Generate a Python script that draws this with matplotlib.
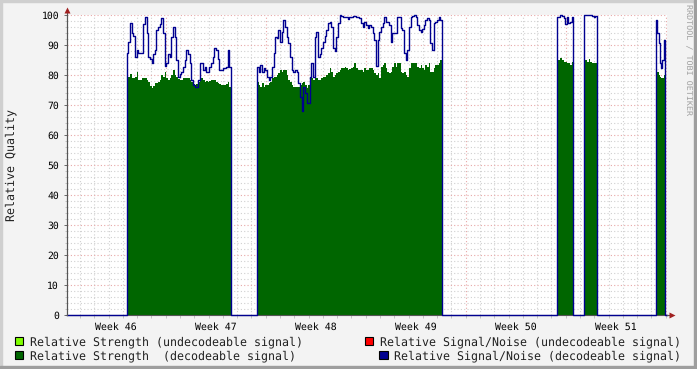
import numpy as np
import matplotlib
matplotlib.use("Agg")
import matplotlib.pyplot as plt
from matplotlib.patches import Rectangle

plt.rcParams["text.hinting"] = "no_hinting"

W, H = 697, 369
MONO = "DejaVu Sans Mono"

# ---------------- data ----------------
week_labels = ["Week 46", "Week 47", "Week 48", "Week 49", "Week 50", "Week 51"]
week_centers = [3.5, 10.5, 17.5, 24.5, 31.5, 38.5]   # days from axis origin
y_ticks = [0, 10, 20, 30, 40, 50, 60, 70, 80, 90, 100]

# start / end (days) of each period with data
seg_bounds = [(4.27, 11.57), (13.39, 26.34), (34.41, 35.53), (36.28, 37.17), (41.32, 41.95)]

seg1_snr = [87.2, 91.0, 97.2, 94.0, 93.0, 86.0, 88.3, 87.5, 87.2, 87.2,
            97.0, 99.4, 94.0, 86.0, 85.5, 84.0, 87.0, 88.3, 95.0, 96.0,
            97.0, 99.0, 94.0, 83.0, 84.0, 87.0, 86.0, 92.8, 96.0, 92.8,
            85.0, 79.5, 80.5, 81.0, 82.8, 85.0, 88.3, 87.0, 84.0, 78.3,
            76.7, 76.0, 76.0, 78.3, 84.0, 84.0, 81.7, 82.8, 81.0, 81.0,
            82.8, 84.0, 86.0, 88.9, 88.3, 85.5, 81.7, 81.7, 82.2, 82.2,
            82.8, 88.3, 82.8]
seg1_str = [79.0, 79.5, 80.5, 79.0, 79.0, 79.5, 81.0, 78.3, 78.5, 79.0,
            79.0, 79.0, 78.5, 77.8, 76.5, 75.6, 76.5, 77.2, 77.5, 77.8,
            78.5, 80.0, 79.4, 81.0, 79.0, 78.3, 79.0, 80.0, 81.7, 80.0,
            79.4, 78.8, 78.3, 78.5, 79.0, 79.0, 79.0, 79.0, 78.3, 77.8,
            77.0, 76.7, 77.0, 77.8, 78.5, 79.0, 78.3, 77.8, 78.0, 77.8,
            78.0, 78.3, 78.3, 78.3, 77.8, 77.2, 77.0, 76.7, 76.7, 76.7,
            77.0, 77.8, 76.0]

seg2_snr = [82.8, 81.0, 83.3, 81.0, 82.2, 81.7, 79.4, 78.3, 79.4, 82.8,
            87.2, 92.8, 92.2, 95.0, 91.1, 94.4, 98.3, 96.0, 92.8, 90.6,
            86.0, 81.7, 81.0, 81.7, 81.0, 77.2, 72.8, 68.0, 76.0, 74.0,
            70.6, 70.6, 79.4, 83.9, 79.4, 92.8, 94.4,
            86.0, 87.0, 89.0, 91.0, 93.0, 95.0, 97.2, 97.8, 96.0, 89.0,
            88.0, 92.8, 97.2, 100.0, 99.8, 99.5, 99.5, 99.5, 98.8, 99.5,
            99.5, 99.8, 99.8, 99.5, 99.5, 98.9, 97.2, 96.0, 97.8, 96.7,
            95.6, 96.7, 96.0, 93.9, 91.7, 83.0, 91.7, 94.4,
            96.0, 97.2, 99.4, 97.8, 97.8, 96.7, 91.0, 93.9, 93.9, 93.9,
            99.4, 99.4, 95.6, 95.0, 87.2, 85.0, 88.3, 96.0, 99.4, 99.6,
            100.0, 99.4, 96.7, 95.0, 94.4, 95.5, 96.7, 98.3, 98.9, 98.3,
            90.6, 88.3, 97.2, 97.8, 98.3, 99.4, 98.3]
seg2_str = [77.8, 76.7, 76.0, 77.2, 76.0, 76.7, 76.7, 77.2, 77.8, 78.9,
            79.4, 79.4, 80.0, 80.6, 81.7, 81.0, 81.7, 81.7, 80.0, 78.3,
            77.8, 76.7, 76.0, 76.0, 76.0, 76.0, 76.7, 77.2, 77.8, 76.7,
            75.6, 76.7, 78.3, 78.9, 78.3, 78.9, 78.9,
            78.3, 78.5, 78.9, 79.2, 79.4, 80.0, 80.6, 82.2, 81.1, 79.4,
            80.0, 80.6, 81.1, 81.7, 82.2, 82.5, 82.8, 82.2, 81.7, 82.0,
            82.2, 82.8, 83.9, 82.2, 81.7, 81.7, 81.7, 81.1, 82.2, 81.7,
            81.7, 82.2, 82.2, 81.7, 80.6, 80.0, 80.6, 78.9,
            82.8, 83.3, 83.9, 82.2, 81.1, 80.6, 81.1, 82.8, 83.9, 82.8,
            83.9, 83.9, 81.1, 80.6, 81.1, 80.0, 79.4, 82.2, 83.9, 83.9,
            83.9, 83.9, 82.8, 82.2, 83.3, 82.2, 81.7, 83.3, 82.8, 83.9,
            81.1, 81.1, 82.2, 83.3, 83.3, 83.9, 85.0]

seg3_snr = [99.4, 99.4, 100.0, 99.6, 98.9, 97.0, 99.2, 97.5, 97.8, 99.4]
seg3_str = [85.0, 85.0, 85.6, 85.0, 84.4, 84.4, 83.9, 83.9, 83.3, 84.4]

seg4_snr = [100.0, 100.0, 100.0, 100.0, 100.0, 99.8, 99.2, 99.8]
seg4_str = [85.0, 85.0, 84.4, 85.2, 84.4, 83.9, 83.9, 83.9]

seg5_snr = [98.3, 93.9, 90.6, 83.9, 82.2, 85.0, 91.7]
seg5_str = [81.1, 81.1, 80.0, 79.4, 78.9, 78.9, 80.0]

snr_segments = [seg1_snr, seg2_snr, seg3_snr, seg4_snr, seg5_snr]
str_segments = [seg1_str, seg2_str, seg3_str, seg4_str, seg5_str]

legend_entries = [
    ("Relative Strength (undecodeable signal)", "#80FF00"),
    ("Relative Strength  (decodeable signal)", "#006600"),
    ("Relative Signal/Noise (undecodeable signal)", "#FF0000"),
    ("Relative Signal/Noise (decodeable signal)", "#000090"),
]

# ---------------- figure ----------------
def fx(px):
    return px / W

def fy(py):
    return 1 - py / H

fig = plt.figure(figsize=(W / 100, H / 100), dpi=100)
fig.patch.set_facecolor("#F3F3F3")

# 3D-like frame
fig.patches.append(Rectangle((0, fy(2)), 1, 2 / H, transform=fig.transFigure, color="#CFCFCF", zorder=0))
fig.patches.append(Rectangle((0, 0), 2 / W, 1, transform=fig.transFigure, color="#CFCFCF", zorder=0))
fig.patches.append(Rectangle((0, 0), 1, 3 / H, transform=fig.transFigure, color="#9E9E9E", zorder=0))
fig.patches.append(Rectangle((1 - 3 / W, 0), 3 / W, 1, transform=fig.transFigure, color="#9E9E9E", zorder=0))

XMIN, XMAX = 0.07, 42.07
ax = fig.add_axes([fx(66.7), fy(315), 600 / W, 300 / H])
ax.set_facecolor("white")
ax.set_xlim(XMIN, XMAX)
ax.set_ylim(0, 100)

# grid
for d in range(1, 43):
    if d % 7 == 0:
        ax.axvline(d, color="#E8A8A8", lw=0.8, ls=(0, (1, 2)), zorder=1)
    else:
        ax.axvline(d, color="#D0D0D0", lw=0.8, ls=(0, (1, 2)), zorder=1)
for v in range(2, 101, 2):
    if v % 10 == 0:
        ax.axhline(v, color="#E8A8A8", lw=0.8, ls=(0, (1, 2)), zorder=1)
    else:
        ax.axhline(v, color="#D0D0D0", lw=0.8, ls=(0, (1, 2)), zorder=1)

# strength areas
for (s, e), vals in zip(seg_bounds, str_segments):
    edges = np.linspace(s, e, len(vals) + 1)
    ax.fill_between(edges, np.append(vals, vals[-1]), 0, step="post",
                    color="#006600", lw=0, zorder=2)

# signal/noise line (zero between the data periods)
xs, ys = [XMIN], [0.0]
for (s, e), vals in zip(seg_bounds, snr_segments):
    edges = np.linspace(s, e, len(vals) + 1)
    xs.append(s); ys.append(0.0)
    for i, v in enumerate(vals):
        xs += [edges[i], edges[i + 1]]
        ys += [v, v]
    xs.append(e); ys.append(0.0)
xs.append(XMAX); ys.append(0.0)
ax.plot(xs, ys, color="#000090", lw=1.0, zorder=4, clip_on=False)

# axes / ticks
for sp in ["top", "right"]:
    ax.spines[sp].set_visible(False)
for sp in ["left", "bottom"]:
    ax.spines[sp].set_color("#555555")
    ax.spines[sp].set_linewidth(0.8)
ax.set_xticks(week_centers)
ax.set_xticklabels(week_labels, fontfamily=MONO, fontsize=7.1)
ax.set_xticks(np.arange(1, 43), minor=True)
ax.tick_params(axis="x", which="major", length=0, pad=5)
ax.tick_params(axis="x", which="minor", length=2, color="#BBBBBB", width=0.6)
ax.set_yticks(y_ticks)
ax.set_yticklabels([str(v) for v in y_ticks], fontfamily=MONO, fontsize=7)
ax.set_yticks(np.arange(0, 101, 2), minor=True)
ax.tick_params(axis="y", which="major", length=2.5, color="#555555", width=0.6, pad=3)
ax.tick_params(axis="y", which="minor", length=1.5, color="#BBBBBB", width=0.6)

# axis extensions and arrows
ax.plot([0, 0], [0, 1.012], transform=ax.transAxes, color="#555555", lw=0.8, clip_on=False, zorder=5)
ax.plot([0], [1.018], transform=ax.transAxes, marker="^", ms=4, color="#A02020", clip_on=False, zorder=5, mec="none")
ax.plot([1, 1.005], [0, 0], transform=ax.transAxes, color="#555555", lw=0.8, clip_on=False, zorder=5)
ax.plot([1.008], [0], transform=ax.transAxes, marker=">", ms=4, color="#A02020", clip_on=False, zorder=5, mec="none")

# labels
fig.text(fx(11), fy(165), "Relative Quality", rotation=90, ha="center", va="center",
         fontfamily=MONO, fontsize=8.4, color="#202020")
fig.text(fx(688), fy(60), "RRDTOOL / TOBI OETIKER", rotation=270, ha="center", va="center",
         fontfamily=MONO, fontsize=6, color="#A0A0A0")

# legend
legend_pos = [(15, 345, 30), (15, 359, 30), (365, 345, 380), (379.3, 359, 394)]
for (label, color), (bx, base, tx) in zip(legend_entries, legend_pos):
    fig.patches.append(Rectangle((fx(bx), fy(base)), 8.3 / W, 8.3 / H, transform=fig.transFigure,
                                 facecolor=color, edgecolor="black", lw=0.8, zorder=3))
    fig.text(fx(tx), fy(base), label, ha="left", va="baseline", fontfamily=MONO,
             fontsize=8.34, color="#202020")

fig.savefig("out.png", dpi=100, facecolor=fig.get_facecolor())
